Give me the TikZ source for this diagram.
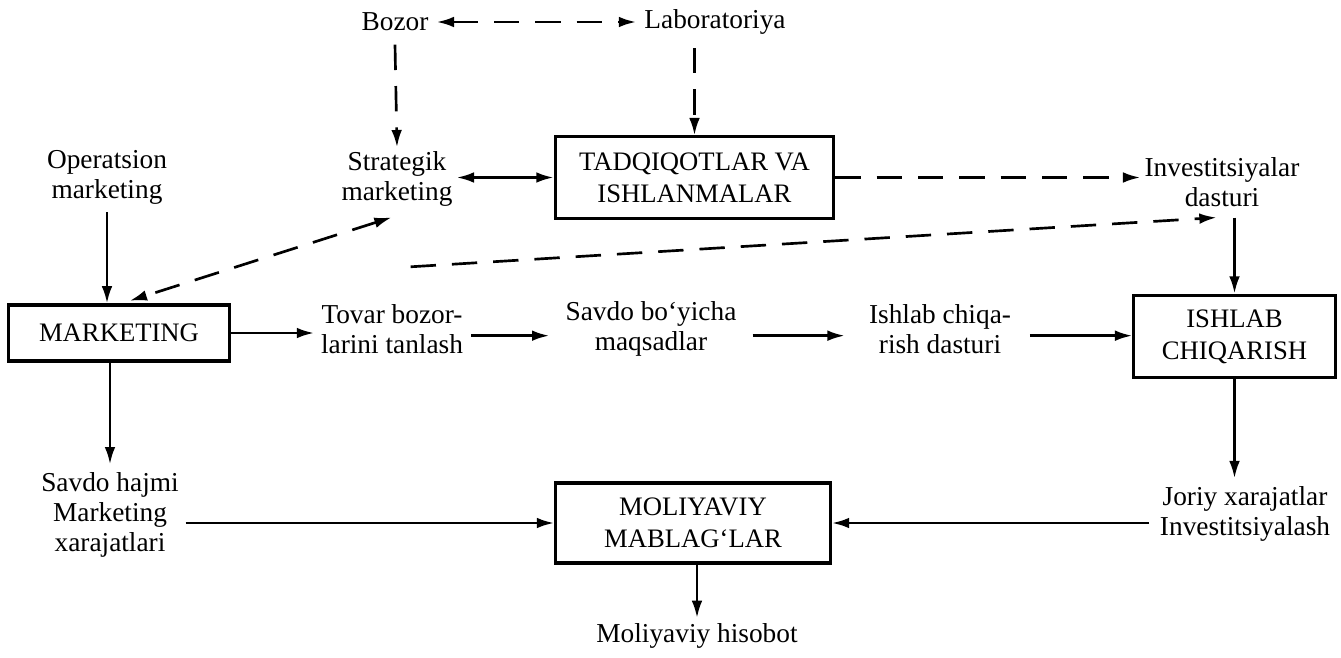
\documentclass[tikz,border=0pt]{standalone}
\usepackage{fontspec}
\setmainfont{Liberation Serif}
\usetikzlibrary{arrows.meta}
\begin{document}
\begin{tikzpicture}[x=0.75pt,y=-0.75pt,
  >={Latex[length=13pt,width=8pt]},
  txt/.style={align=center,font=\fontsize{20.5}{22.5}\selectfont,inner sep=0pt},
  boxnode/.style={draw,line width=2.3pt,align=center,inner sep=0pt,font=\fontsize{20}{24}\selectfont},
  arr/.style={line width=2pt,->},
  dbl/.style={line width=2pt,<->},
  dsh/.style={dash pattern=on 19pt off 12pt}]
\useasboundingbox (0,0) rectangle (1341,657);
% text nodes
\node[txt] (bozor) at (395,22) {Bozor};
\node[txt] (lab) at (715,22) {Laboratoriya};
\node[txt] (oper) at (107,177) {Operatsion\\marketing};
\node[txt] (strat) at (397,179) {Strategik\\marketing};
\node[txt] (inv) at (1222,182) {Investitsiyalar\\dasturi};
\node[txt] (tovar) at (392,329) {Tovar bozor-\\larini tanlash};
\node[txt] (savdo) at (651,329) {Savdo bo‘yicha\\maqsadlar};
\node[txt] (ishd) at (940,329) {Ishlab chiqa-\\rish dasturi};
\node[txt] (sh) at (110,515) {Savdo hajmi\\Marketing\\xarajatlari};
\node[txt] (jor) at (1245,514) {Joriy xarajatlar\\Investitsiyalash};
\node[txt] (hisob) at (697,636) {Moliyaviy hisobot};
% boxes
\node[boxnode,minimum width=209pt,minimum height=61pt] (tadq) at (694.5,177.5) {TADQIQOTLAR VA\\ISHLANMALAR};
\node[boxnode,minimum width=166pt,minimum height=42pt] (mk) at (119,333) {MARKETING};
\node[boxnode,minimum width=151pt,minimum height=62pt] (ish) at (1234.5,336.5) {ISHLAB\\CHIQARISH};
\node[boxnode,minimum width=206pt,minimum height=60pt] (mol) at (693,523) {MOLIYAVIY\\MABLAG‘LAR};
% connectors
\draw[dbl,dsh] ([xshift=6pt]bozor.east) -- ([xshift=-6pt]lab.west);
\draw[arr,dsh] ([yshift=-10pt]bozor.south) -- ([yshift=3pt]strat.north);
\draw[arr,dsh] ([yshift=-10pt]lab.south -| tadq.north) -- (tadq.north);
\draw[dbl] ([xshift=3pt]strat.east |- tadq.west) -- (tadq.west);
\draw[arr,dsh] (tadq.east) -- ([xshift=-3pt]inv.west |- tadq.east);
\draw[dbl,dsh] ([xshift=-4pt,yshift=-8pt]strat.south) -- ([xshift=8pt,yshift=2pt]mk.north);
\draw[arr,dsh] ([xshift=14pt,yshift=28pt]tovar.north) -- ([xshift=-4pt,yshift=-8pt]inv.south);
\draw[arr] ([yshift=-8pt]inv.south -| ish.north) -- (ish.north);
\draw[arr] ([yshift=-6pt]oper.south) -- (oper.south |- mk.north);
\draw[arr] (mk.east) -- ([xshift=-5pt]tovar.west |- mk.east);
\draw[arr] ([xshift=6pt,yshift=-5pt]tovar.east) -- ([xshift=-12pt,yshift=-5pt]savdo.west);
\draw[arr] ([xshift=12pt,yshift=-5pt]savdo.east) -- ([xshift=-18pt,yshift=-5pt]ishd.west);
\draw[arr] ([xshift=14pt,yshift=-5pt]ishd.east) -- ([yshift=-5pt]ishd.east -| ish.west);
\draw[arr] (mk.south -| sh.north) -- ([yshift=6pt]sh.north);
\draw[arr] ([xshift=5pt]sh.east |- mol.west) -- (mol.west);
\draw[arr] (ish.south) -- ([yshift=6pt]jor.north -| ish.south);
\draw[arr] ([xshift=-8pt]jor.west |- mol.east) -- (mol.east);
\draw[arr] (mol.south -| hisob.north) -- ([yshift=4pt]hisob.north);
\end{tikzpicture}
\end{document}
